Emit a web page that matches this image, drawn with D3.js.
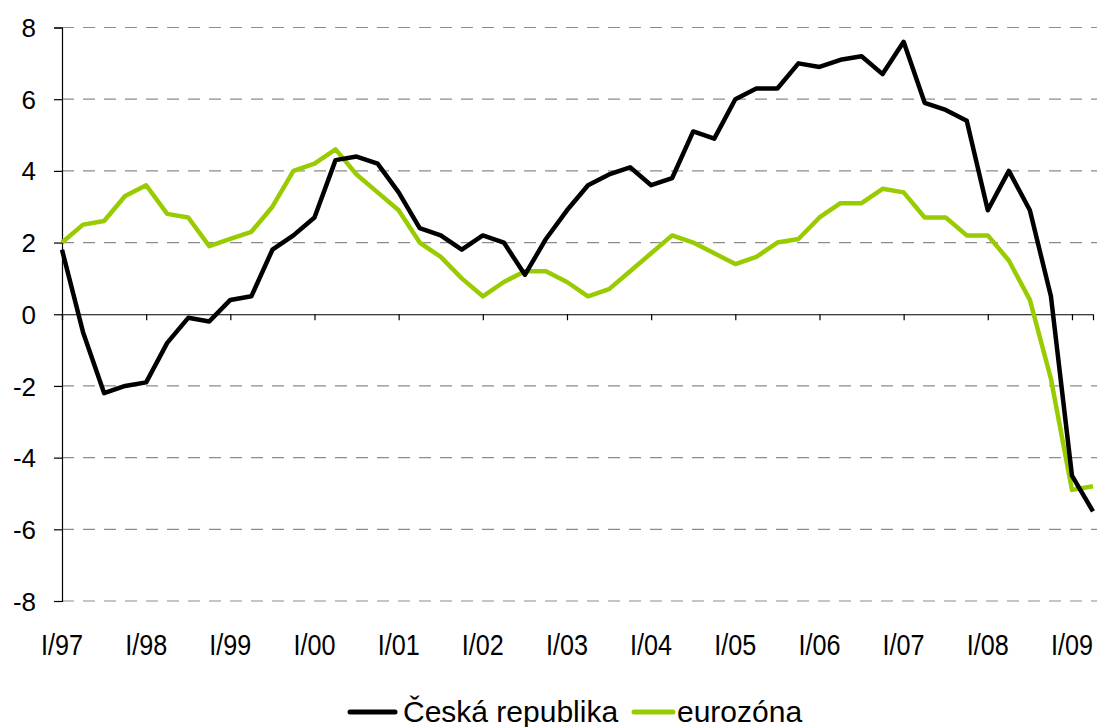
<!DOCTYPE html>
<html><head><meta charset="utf-8">
<script src="https://cdn.jsdelivr.net/npm/d3@7"></script>
<style>body{margin:0;background:#fff}svg{display:block}text{font-family:"Liberation Sans",Arial,sans-serif}</style>
</head><body><svg id="c" width="1097" height="727"></svg>
<script>
const quarters = d3.range(50); // I/97 .. II/09
const tickLabels = ["I/97","I/98","I/99","I/00","I/01","I/02","I/03","I/04","I/05","I/06","I/07","I/08","I/09"];
const yTicks = [-8,-6,-4,-2,0,2,4,6,8];
const czech = [1.8,-0.5,-2.2,-2.0,-1.9,-0.8,-0.1,-0.2,0.4,0.5,1.8,2.2,2.7,4.3,4.4,4.2,3.4,2.4,2.2,1.8,2.2,2.0,1.1,2.1,2.9,3.6,3.9,4.1,3.6,3.8,5.1,4.9,6.0,6.3,6.3,7.0,6.9,7.1,7.2,6.7,7.6,5.9,5.7,5.4,2.9,4.0,2.9,0.5,-4.5,-5.5];
const euro = [2.0,2.5,2.6,3.3,3.6,2.8,2.7,1.9,2.1,2.3,3.0,4.0,4.2,4.6,3.9,3.4,2.9,2.0,1.6,1.0,0.5,0.9,1.2,1.2,0.9,0.5,0.7,1.2,1.7,2.2,2.0,1.7,1.4,1.6,2.0,2.1,2.7,3.1,3.1,3.5,3.4,2.7,2.7,2.2,2.2,1.5,0.4,-1.8,-4.9,-4.8];
const seriesNames = ["Česká republika","eurozóna"];
const colors = ["#000000","#99cc00"];

const svg = d3.select("#c");
const x = d3.scaleLinear().domain([0,49]).range([62,1093]);
const y = d3.scaleLinear().domain([-8,8]).range([601,27.5]);

// gridlines
svg.append("g").selectAll("line").data(yTicks.filter(v=>v!==0)).join("line")
  .attr("x1",62).attr("x2",1097).attr("y1",d=>y(d)).attr("y2",d=>y(d))
  .attr("stroke","#8c8c8c").attr("stroke-width",1.2).attr("stroke-dasharray","12,9");

// y axis
const ya = svg.append("g").attr("transform","translate(62,0)")
  .call(d3.axisLeft(y).tickValues(yTicks).tickSize(8).tickFormat(d=>String(d)));
ya.select(".domain").attr("stroke","#000").attr("stroke-width",1.2);
ya.selectAll(".tick line").attr("stroke","#000").attr("stroke-width",1.2);
ya.selectAll(".tick text").attr("font-size",26).attr("x",-26).attr("dy","0.35em")
  .attr("font-family","Liberation Sans, Arial, sans-serif").attr("fill","#000");

// x axis at zero
const xa = svg.append("g").attr("transform",`translate(0,${y(0)})`)
  .call(d3.axisBottom(x).tickValues(d3.range(0,49,4)).tickSize(6).tickFormat(()=>""));
xa.select(".domain").attr("stroke","#000").attr("stroke-width",1.2);
xa.selectAll(".tick line").attr("stroke","#000").attr("stroke-width",1.2);

// x labels at bottom
svg.append("g").selectAll("text").data(tickLabels).join("text")
  .attr("x",(d,i)=>x(i*4)).attr("y",655).attr("text-anchor","middle")
  .attr("font-size",30).attr("fill","#000")
  .attr("transform",(d,i)=>`translate(${x(i*4)},0) scale(0.84,1) translate(${-x(i*4)},0)`)
  .text(d=>d);

// lines
const line = d3.line().x((d,i)=>x(i)).y(d=>y(d));
[euro, czech].forEach((s,k)=>{
  svg.append("path").datum(s).attr("d",line).attr("fill","none")
    .attr("stroke", k===0?colors[1]:colors[0]).attr("stroke-width",4.5)
    .attr("stroke-linejoin","round");
});

// legend
const lg = svg.append("g");
const legItems = [{name:seriesNames[0],c:colors[0],x1:350,x2:395,tx:403},{name:seriesNames[1],c:colors[1],x1:634,x2:673,tx:677}];
legItems.forEach(it=>{
  lg.append("line").attr("x1",it.x1).attr("x2",it.x2).attr("y1",712).attr("y2",712)
    .attr("stroke",it.c).attr("stroke-width",5).attr("stroke-linecap","round");
  lg.append("text").attr("x",it.tx).attr("y",722).attr("font-size",30).attr("fill","#000")
    .text(it.name);
});
</script></body></html>
